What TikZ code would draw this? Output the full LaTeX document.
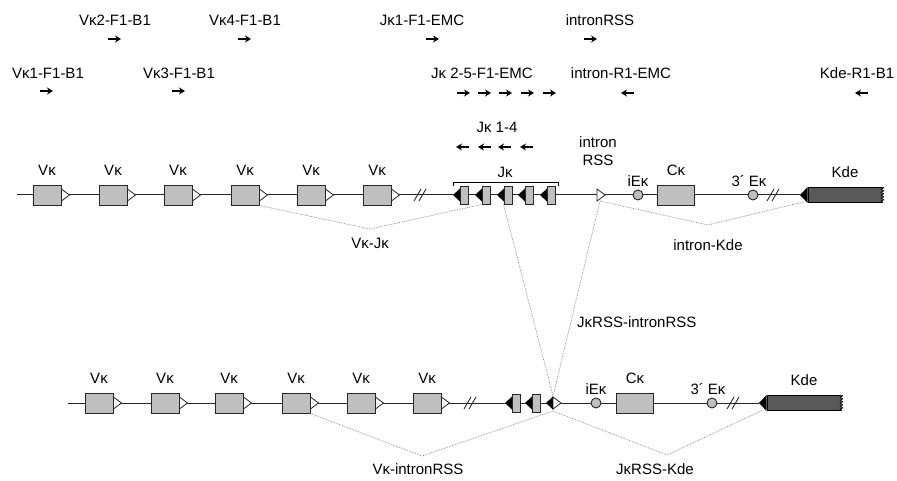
\documentclass[tikz,border=0pt]{standalone}
\usepackage{fontspec}
\setmainfont{Liberation Sans}
\usetikzlibrary{arrows.meta}
\usetikzlibrary{positioning}
\usetikzlibrary{decorations.pathmorphing}

\tikzstyle{seg} = [rectangle, draw=black!85, fill=black!25, line width=0.9pt, inner sep=0pt]
\tikzstyle{vseg} = [seg, minimum width=28pt, minimum height=20pt]
\tikzstyle{jseg} = [seg, minimum width=8pt, minimum height=18pt]
\tikzstyle{cseg} = [seg, minimum width=37pt, minimum height=20pt]
\tikzstyle{enh} = [circle, draw=black!85, fill=black!25, line width=0.9pt, minimum size=10pt, inner sep=0pt]
\tikzstyle{kdebar} = [rectangle, draw=black, fill=black!65, line width=0.9pt, minimum width=74pt,
  minimum height=15pt, inner sep=0pt]
\tikzstyle{lbl} = [font=\fontsize{15}{18}\selectfont, inner sep=0pt]
\tikzstyle{dna} = [line width=1pt, black!85]
\tikzstyle{joinline} = [gray, densely dotted, line width=0.7pt]
\tikzstyle{primer} = [line width=1.8pt, -{Stealth[length=6pt,width=7pt]}]
\tikzstyle{brk} = [line width=0.9pt, black!85]

% recombination signal: open one points right, dark one points left
\newcommand{\rssopen}[1]{\draw[line width=0.8pt, black!85, fill=white] (#1) +(0,-6) -- +(8,0) -- +(0,6) -- cycle;}
\newcommand{\rssdark}[1]{\fill[black] (#1) +(7,-6.5) -- +(0,0) -- +(7,6.5) -- cycle;}

\begin{document}
\begin{tikzpicture}[x=1pt,y=-1pt]
  \useasboundingbox (0,0) rectangle (897,481);

  % primers
  \foreach \n/\x/\y/\t in {a/115/20/Vκ2-F1-B1, b/245/20/Vκ4-F1-B1, c/48/73/Vκ1-F1-B1, d/179/73/Vκ3-F1-B1,
      e/422/20/Jκ1-F1-EMC, f/600/20/intronRSS, g/482/73/Jκ 2-5-F1-EMC, h/621/73/intron-R1-EMC,
      i/857/73/Kde-R1-B1, k/497/127/Jκ 1-4}
    \node (p\n) [lbl] at (\x,\y) {\t};
  \foreach \x/\y in {108/39, 238/39, 40/91, 172/91, 426/39, 584/39, 457/93, 478/93, 499/93, 521/93, 543/93}
    \draw [primer] (\x,\y) -- ++(13,0);
  \foreach \x/\y in {634/93, 868/93, 469/147, 491/147, 511/147, 533/147}
    \draw [primer] (\x,\y) -- ++(-13,0);

  % germline locus
  \coordinate (g0) at (17,195);
  \coordinate (g1) at (800,195);
  \draw [dna] (g0) -- (g1);
  \foreach \i/\x in {1/47,2/113,3/178,4/245,5/311,6/377} {
    \node (gv\i) [vseg] at (\x,195) {};
    \rssopen{gv\i.east}
    \node (gvl\i) [lbl, above=9pt of gv\i] {Vκ};
  }
  \draw [brk] (414,201) -- (421,189);
  \draw [brk] (419,201) -- (426,189);
  \foreach \i/\x in {1/453,2/475,3/497,4/518,5/540} {
    \coordinate (gr\i) at (\x,195);
    \rssdark{gr\i}
    \node (gj\i) [jseg] at (\x+11,195) {};
  }
  \draw [line width=0.8pt] (453,186) -- (453,182) -- (558,182) -- (558,186);
  \node (gjl) [lbl] at (505,172) {Jκ};
  \coordinate (girss) at (597,195);
  \rssopen{girss}
  \node (girssl) [lbl, align=center] at (598,151) {intron\\RSS};
  \node (gie) [enh] at (638,195) {};
  \node (giel) [lbl, above=3pt of gie] {iEκ};
  \node (gc) [cseg] at (676,195) {};
  \node (gcl) [lbl, above=9pt of gc] {Cκ};
  \node (g3e) [enh] at (753,195) {};
  \node (g3el) [lbl, above=3pt of g3e, xshift=-4pt] {3´ Eκ};
  \draw [brk] (767,201) -- (774,189);
  \draw [brk] (772,201) -- (779,189);
  \node (gkde) [kdebar] at (845,195) {};
  \fill (gkde.north west) -- (g1) -- (gkde.south west) -- cycle;
  \draw [white, line width=1.6pt] (gkde.north east) -- (gkde.south east);
  \draw [decorate, decoration={zigzag, segment length=3pt, amplitude=1.2pt}, line width=0.8pt]
    (gkde.north east) -- (gkde.south east);
  \node (gkdel) [lbl, above=9pt of gkde] {Kde};

  % rearranged locus
  \coordinate (r0) at (68,403);
  \coordinate (r1) at (759,403);
  \draw [dna] (r0) -- (r1);
  \foreach \i/\x in {1/99,2/165,3/229,4/296,5/361,6/427} {
    \node (rv\i) [vseg] at (\x,403) {};
    \rssopen{rv\i.east}
    \node (rvl\i) [lbl, above=9pt of rv\i] {Vκ};
  }
  \draw [brk] (464,409) -- (471,397);
  \draw [brk] (469,409) -- (476,397);
  \foreach \i/\x in {1/505,2/525} {
    \coordinate (rr\i) at (\x,403);
    \rssdark{rr\i}
    \node (rj\i) [jseg] at (\x+11,403) {};
  }
  \coordinate (rjr) at (546,403);
  \coordinate (rir) at (553,403);
  \rssdark{rjr}
  \rssopen{rir}
  \node (rie) [enh] at (596,403) {};
  \node (riel) [lbl, above=3pt of rie] {iEκ};
  \node (rc) [cseg] at (635,403) {};
  \node (rcl) [lbl, above=9pt of rc] {Cκ};
  \node (r3e) [enh] at (712,403) {};
  \node (r3el) [lbl, above=3pt of r3e, xshift=-4pt] {3´ Eκ};
  \draw [brk] (727,409) -- (734,397);
  \draw [brk] (732,409) -- (739,397);
  \node (rkde) [kdebar] at (804,403) {};
  \fill (rkde.north west) -- (r1) -- (rkde.south west) -- cycle;
  \draw [white, line width=1.6pt] (rkde.north east) -- (rkde.south east);
  \draw [decorate, decoration={zigzag, segment length=3pt, amplitude=1.2pt}, line width=0.8pt]
    (rkde.north east) -- (rkde.south east);
  \node (rkdel) [lbl, above=9pt of rkde] {Kde};

  % joins
  \coordinate (vjk) at (370,229);
  \coordinate (ink) at (708,225);
  \coordinate (girssb) at (600,201);
  \coordinate (gkdeb) at (803,202);
  \coordinate (rsst) at (553,396);
  \coordinate (rssb) at (553,411);
  \coordinate (vin) at (422,456);
  \coordinate (jkd) at (667,455);
  \coordinate (rkdeb) at (763,410);
  \draw [joinline] (gv4.south east) -- (vjk) -- (gj2.south west);
  \draw [joinline] (girssb) -- (ink) -- (gkdeb);
  \draw [joinline] (gj3.south west) -- (rsst);
  \draw [joinline] (girssb) -- (rsst);
  \draw [joinline] (rv4.south east) -- (vin) -- (rssb);
  \draw [joinline] (rssb) -- (jkd) -- (rkdeb);
  \node (lvj) [lbl] at (370,243) {Vκ-Jκ};
  \node (lik) [lbl] at (708,245) {intron-Kde};
  \node (lri) [lbl, anchor=west] at (577,322) {JκRSS-intronRSS};
  \node (lvi) [lbl] at (418,469) {Vκ-intronRSS};
  \node (ljk) [lbl] at (655,469) {JκRSS-Kde};
\end{tikzpicture}
\end{document}
